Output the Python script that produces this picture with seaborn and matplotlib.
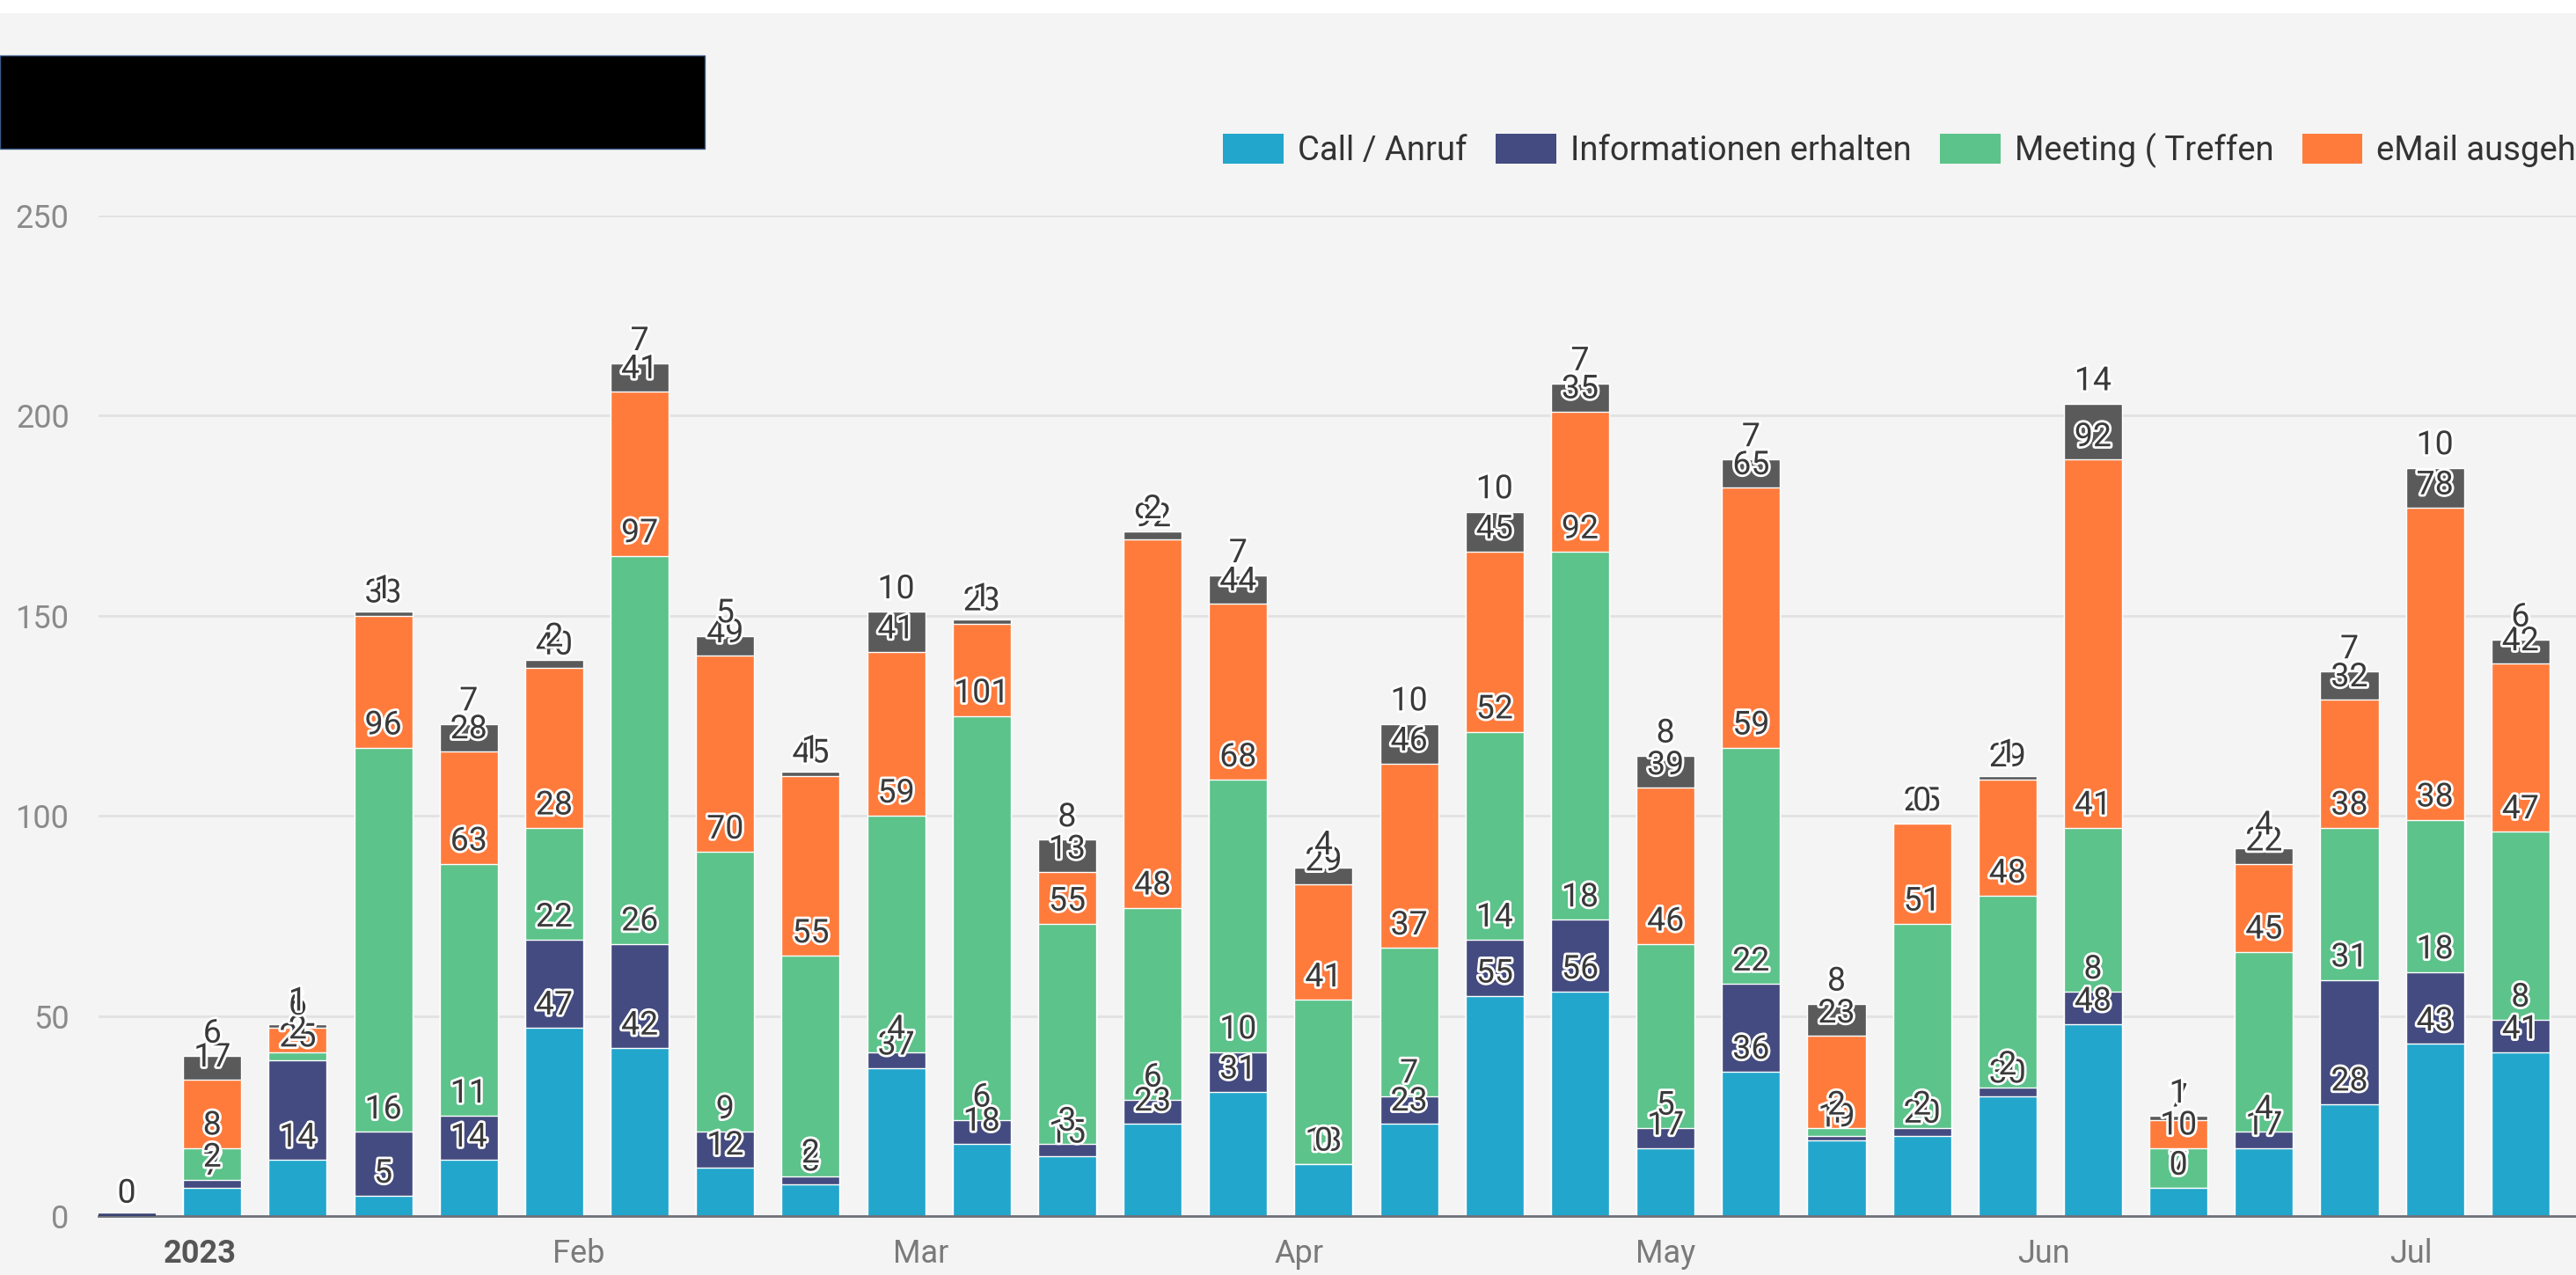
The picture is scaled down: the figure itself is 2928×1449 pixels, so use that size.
import numpy as np
import pandas as pd
import matplotlib
matplotlib.use("Agg")
import matplotlib.pyplot as plt
import matplotlib.patheffects as pe
from matplotlib import font_manager
from matplotlib.patches import Rectangle, Patch
from matplotlib.ticker import MultipleLocator
import seaborn as sns

# weekly buckets (Monday of each week)
weeks = pd.date_range("2022-12-26", periods=29, freq="7D")
series = ["Call / Anruf", "Informationen erhalten", "Meeting ( Treffen", "eMail ausgehend", "Sonstiges"]
colors = ["#22A6CC", "#434B80", "#5CC38A", "#FF7B3C", "#5A5A5A"]

call    = [0, 7, 14, 5, 14, 47, 42, 12, 8, 37, 18, 15, 23, 31, 13, 23, 55, 56, 17, 36, 19, 20, 30, 48, 7, 17, 28, 43, 41]
info    = [0, 2, 25, 16, 11, 22, 26, 9, 2, 4, 6, 3, 6, 10, 0, 7, 14, 18, 5, 22, 1, 2, 2, 8, 0, 4, 31, 18, 8]
meeting = [0, 8, 2, 96, 63, 28, 97, 70, 55, 59, 101, 55, 48, 68, 41, 37, 52, 92, 46, 59, 2, 51, 48, 41, 10, 45, 38, 38, 47]
email   = [0, 17, 6, 33, 28, 40, 41, 49, 45, 41, 23, 13, 92, 44, 29, 46, 45, 35, 39, 65, 23, 25, 29, 92, 7, 22, 32, 78, 42]
other   = [0, 6, 1, 1, 7, 2, 7, 5, 1, 10, 1, 8, 2, 7, 4, 10, 10, 7, 8, 7, 8, 0, 1, 14, 1, 4, 7, 10, 6]

month_ticks = pd.date_range("2023-01-01", periods=7, freq="MS")
month_labels = ["2023", "Feb", "Mar", "Apr", "May", "Jun", "Jul"]

data = pd.DataFrame({"week": weeks.strftime("%Y-%m-%d")})
for name, vals in zip(series, [call, info, meeting, email, other]):
    data[name] = vals
cum = data[series].cumsum(axis=1)

names = {f.name for f in font_manager.fontManager.ttflist}
font = "Liberation Sans Narrow" if "Liberation Sans Narrow" in names else "Roboto"

sns.set_style("white")
plt.rcParams["font.family"] = [font, "DejaVu Sans"]
bg = "#F4F4F4"

fig = plt.figure(figsize=(29.28, 14.49), dpi=100, facecolor=bg)
ax = fig.add_axes([112 / 2928, 67 / 1449, 1 - 112 / 2928, (1382 - 245) / 1449])
ax.set_facecolor(bg)

# stacked bars: draw cumulative totals from top series down
for name, c in reversed(list(zip(series, colors))):
    sns.barplot(x=data["week"], y=cum[name], color=c, saturation=1, width=0.68,
                ax=ax, zorder=3)

# the empty first week still shows a thin dark bar on the axis
ax.hlines(0, -0.34, 0.34, color="#3A4270", linewidth=4, zorder=5)

# value labels sit just above the top edge of each segment
stroke = [pe.withStroke(linewidth=4, foreground="white")]
for name in series:
    for i in range(len(data)):
        ax.annotate(str(data[name][i]), (i, cum[name][i]), xytext=(0, 11),
                    textcoords="offset points", ha="center", va="baseline",
                    fontsize=27, color="#3A3A3A", path_effects=stroke, zorder=6)

ax.set_ylim(0, 250)
ax.set_xlim(-0.33, 28.65)
ax.yaxis.set_major_locator(MultipleLocator(50))
ax.set_yticks([v for v in range(10, 250, 10) if v % 50], minor=True)
ax.grid(axis="y", color="#E2E2E2", linewidth=2, zorder=0)
ax.tick_params(axis="y", which="major", length=0, pad=24, labelsize=26, labelcolor="#8A8A8A")
ax.tick_params(axis="y", which="minor", length=6, width=2, color="#9A9A9A", direction="out")

pos = [(d - weeks[0]).days / 7 for d in month_ticks]
ax.set_xticks(pos, month_labels)
ax.tick_params(axis="x", length=10, width=2, color="#6E7079", pad=8, labelsize=26, labelcolor="#7A7A7A")
ax.get_xticklabels()[0].set_fontweight("bold")
ax.get_xticklabels()[0].set_color("#555555")
ax.set_xlabel("")
ax.set_ylabel("")

for s in ["top", "right", "left"]:
    ax.spines[s].set_visible(False)
ax.spines["bottom"].set_color("#6E7079")
ax.spines["bottom"].set_linewidth(2)
ax.spines["bottom"].set_zorder(4)

handles = [Patch(facecolor=c, edgecolor="none") for c in colors]
fig.legend(handles, series, loc="center left", bbox_to_anchor=(1390 / 2928, 1 - 171 / 1449),
           ncol=5, frameon=False, fontsize=27.5, handlelength=1.8, handleheight=1.0,
           handletextpad=0.42, columnspacing=0.85, borderpad=0, borderaxespad=0,
           labelcolor="#333333")

# white strip at the very top and the redaction block over the title
fig.patches.append(Rectangle((0, 1 - 15 / 1449), 1, 15 / 1449, transform=fig.transFigure,
                             facecolor="white", edgecolor="none"))
fig.patches.append(Rectangle((0, 1 - 169 / 1449), 801 / 2928, 106 / 1449, transform=fig.transFigure,
                             facecolor="black", edgecolor="#3B5A8A", linewidth=1))

fig.savefig("out.png", dpi=100, facecolor=bg)
